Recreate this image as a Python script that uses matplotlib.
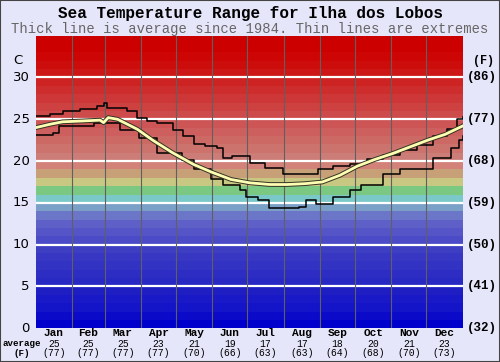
import numpy as np
import matplotlib
matplotlib.use('Agg')
import matplotlib.pyplot as plt
import matplotlib.patheffects as pe
from matplotlib.patches import Rectangle

# month data
months = ['Jan', 'Feb', 'Mar', 'Apr', 'May', 'Jun', 'Jul', 'Aug', 'Sep', 'Oct', 'Nov', 'Dec']
month_avg_c = [25, 25, 25, 23, 21, 19, 17, 17, 18, 20, 21, 23]
month_avg_f = [77, 77, 77, 77, 70, 66, 63, 63, 64, 68, 70, 73]
month_start = [0, 31, 59, 90, 120, 151, 181, 212, 243, 273, 304, 334, 365]

# curves (day of year, deg C)
upper_day = [0, 12, 23, 38, 52, 58, 61, 78, 87, 95, 104, 117, 126, 135, 145, 155, 160,
             168, 183, 196, 211, 226, 241, 254, 269, 283, 297, 311, 326, 340, 352, 360, 365]
upper_val = [25.4, 25.6, 26.0, 26.2, 26.6, 26.9, 26.3, 26.0, 25.2, 24.8, 24.5, 23.7, 23.0, 22.1,
             21.8, 21.6, 20.4, 20.6, 19.8, 19.2, 18.5, 18.4, 19.1, 19.4, 19.7, 20.2, 20.7, 21.3,
             21.9, 23.0, 23.8, 25.0, 25.3]

avg_day = [0, 12, 23, 40, 55, 58, 62, 70, 87, 100, 117, 135, 150, 167, 183, 200, 215, 230,
           245, 260, 275, 290, 305, 320, 335, 350, 365]
avg_val = [24.0, 24.4, 24.7, 24.8, 24.9, 24.6, 25.2, 25.0, 23.8, 22.5, 21.0, 19.6, 18.7, 17.8,
           17.4, 17.2, 17.2, 17.3, 17.5, 18.3, 19.4, 20.2, 20.9, 21.7, 22.5, 23.2, 24.2]

lower_day = [0, 15, 20, 50, 63, 72, 88, 104, 125, 135, 150, 160, 175, 180, 190, 199, 225,
             231, 240, 254, 269, 278, 297, 311, 340, 355, 362, 365]
lower_val = [23.1, 23.4, 24.2, 24.5, 24.5, 23.7, 22.8, 21.0, 20.1, 19.0, 17.9, 17.1, 16.6,
             15.7, 15.3, 14.4, 14.5, 15.3, 14.9, 15.7, 16.5, 17.1, 18.5, 19.1, 20.4, 21.6,
             22.5, 23.0]

# colour per 1 degree band
band_rgb = [(0, 0, 205), (10, 10, 200), (20, 20, 200), (25, 25, 200), (30, 30, 195),
            (40, 40, 195), (45, 45, 195), (50, 50, 195), (55, 55, 195), (62, 62, 195),
            (75, 75, 200), (85, 85, 200), (95, 95, 200), (108, 118, 200), (122, 160, 200),
            (122, 200, 200), (122, 200, 130), (200, 200, 130), (200, 160, 120), (210, 130, 120),
            (205, 125, 120), (205, 115, 110), (205, 105, 100), (205, 95, 95), (205, 85, 85),
            (205, 75, 75), (205, 65, 65), (205, 55, 55), (205, 45, 45), (205, 35, 35),
            (205, 22, 22), (205, 12, 12), (205, 5, 5), (205, 0, 0), (205, 0, 0)]

bg = '#e6e6fa'
mono = 'Liberation Mono'

fig = plt.figure(figsize=(5, 3.62), dpi=100, facecolor=bg)
ax = fig.add_axes([0.0714, 0.0931, 0.854, 0.8083])

for i, c in enumerate(band_rgb):
    ax.axhspan(i, i + 1, color=np.array(c) / 255.0, lw=0)

for y in range(5, 35, 5):
    ax.axhline(y, color='white', lw=1.6)
for d in month_start[1:-1]:
    ax.axvline(d, color='#606060', lw=0.8)

ax.plot(upper_day, upper_val, color='black', lw=1.1, drawstyle='steps-post')
ax.plot(lower_day, lower_val, color='black', lw=1.1, drawstyle='steps-post')
ax.plot(avg_day, avg_val, color='#ffffb4', lw=2.0,
        path_effects=[pe.Stroke(linewidth=3.4, foreground='#333322'), pe.Normal()])

ax.set_xlim(0, 365)
ax.set_ylim(0, 35)
ax.set_xticks([])
ax.set_yticks([])
for s in ax.spines.values():
    s.set_visible(False)

# left / right axis labels
for v in range(0, 35, 5):
    ax.text(-5, v, str(v), ha='right', va='center', fontsize=9.5, family='DejaVu Sans')
    ax.text(368.5, v, '(%d)' % round(v * 9 / 5 + 32), ha='left', va='center',
            fontsize=9, family=mono, weight='bold')
ax.text(-15, 32, 'C', ha='center', va='center', fontsize=9.5, family='DejaVu Sans')
ax.text(383, 32, '(F)', ha='center', va='center', fontsize=8.5, family=mono, weight='bold')

# month labels
for i, m in enumerate(months):
    xc = (month_start[i] + month_start[i + 1]) / 2.0
    ax.text(xc, -0.62, m, ha='center', va='center', fontsize=8, family=mono, weight='bold')
    ax.text(xc, -1.85, str(month_avg_c[i]), ha='center', va='center', fontsize=7, family=mono)
    ax.text(xc, -3.0, '(%d)' % month_avg_f[i], ha='center', va='center', fontsize=7, family=mono)
ax.text(-11.5, -1.85, 'average', ha='center', va='center', fontsize=6.6, family=mono, weight='bold')
ax.text(-11.5, -3.0, '(F)', ha='center', va='center', fontsize=6.6, family=mono, weight='bold')

fig.text(0.5, 0.962, 'Sea Temperature Range for Ilha dos Lobos', ha='center', va='center',
         fontsize=11.5, family=mono, weight='bold')
fig.text(0.5, 0.921, 'Thick line is average since 1984. Thin lines are extremes', ha='center',
         va='center', fontsize=10, family=mono, color='#666666')

fig.patches.append(Rectangle((0, 0), 1, 1, transform=fig.transFigure, fill=False,
                             edgecolor='#444444', lw=1.5))

fig.savefig('out.png', dpi=100, facecolor=bg)
